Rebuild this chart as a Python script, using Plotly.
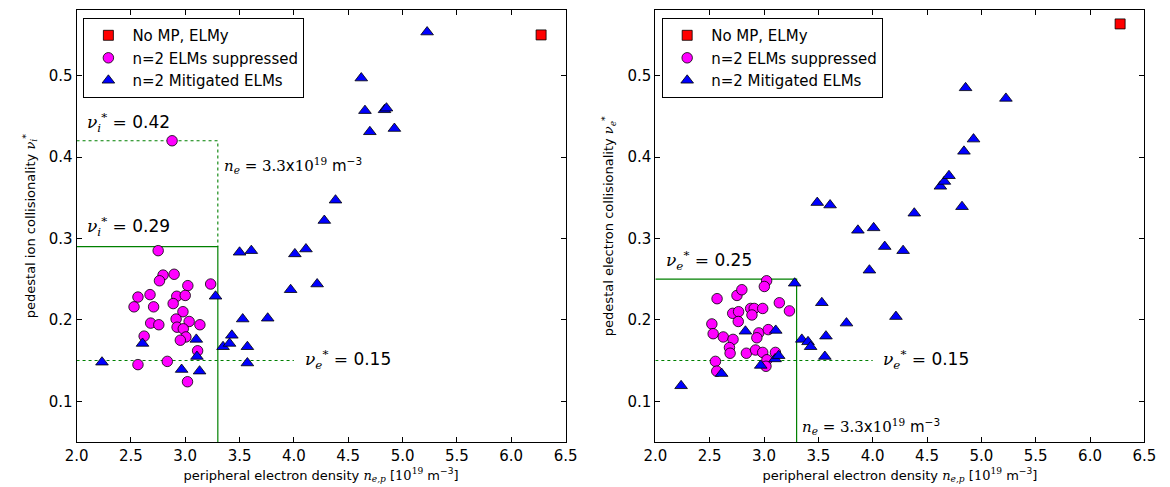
import plotly.graph_objects as go

# ---------------- data ----------------
# Left panel: pedestal ion collisionality
left_elmy_x = [6.275]
left_elmy_y = [0.550]

left_sup_x = [2.751, 2.796, 2.898, 2.763, 3.024, 3.234, 2.565, 2.676, 2.529, 2.709,
              2.922, 3.000, 2.889, 2.979, 2.682, 2.757, 2.916, 3.036, 3.135, 2.925,
              2.982, 2.622, 3.006, 2.955, 3.114, 2.565, 2.835, 3.021, 2.879]
left_sup_y = [0.285, 0.255, 0.256, 0.248, 0.242, 0.244, 0.228, 0.231, 0.216, 0.216,
              0.229, 0.230, 0.220, 0.210, 0.196, 0.194, 0.201, 0.198, 0.194, 0.191,
              0.189, 0.180, 0.179, 0.175, 0.162, 0.145, 0.149, 0.124, 0.420]

left_mit_x = [2.234, 2.607, 2.967, 3.102, 3.108, 3.132, 3.279, 3.348, 3.408, 3.429,
              3.500, 3.529, 3.572, 3.572, 3.608, 3.759, 3.970, 4.009, 4.111, 4.214,
              4.280, 4.383, 4.620, 4.654, 4.699, 4.834, 4.852, 4.925, 5.226]
left_mit_y = [0.148, 0.171, 0.139, 0.176, 0.155, 0.137, 0.229, 0.167, 0.171, 0.181,
              0.283, 0.201, 0.167, 0.147, 0.285, 0.202, 0.237, 0.281, 0.287, 0.244,
              0.322, 0.347, 0.497, 0.457, 0.431, 0.458, 0.460, 0.435, 0.5535]

# Right panel: pedestal electron collisionality
right_elmy_x = [6.277]
right_elmy_y = [0.5635]

right_sup_x = [2.568, 2.751, 2.796, 3.024, 3.003, 3.141, 3.234, 2.877, 2.910, 2.988,
               2.889, 2.712, 2.766, 2.763, 2.520, 2.532, 2.625, 2.715, 2.952, 3.039,
               2.934, 2.682, 2.688, 2.838, 2.922, 2.988, 3.105, 3.027, 3.018, 2.553,
               2.565]
right_sup_y = [0.226, 0.230, 0.237, 0.248, 0.241, 0.221, 0.211, 0.214, 0.214, 0.214,
               0.206, 0.208, 0.210, 0.198, 0.195, 0.183, 0.179, 0.176, 0.184, 0.188,
               0.178, 0.166, 0.159, 0.159, 0.163, 0.160, 0.160, 0.151, 0.143, 0.149,
               0.137]

right_mit_x = [2.237, 2.610, 2.829, 3.108, 2.970, 3.102, 3.135, 3.282, 3.348, 3.405,
               3.429, 3.532, 3.570, 3.560, 3.490, 3.608, 3.759, 3.864, 3.970, 4.009,
               4.111, 4.214, 4.280, 4.383, 4.623, 4.660, 4.702, 4.822, 4.840, 4.855,
               4.928, 5.226]
right_mit_y = [0.119, 0.134, 0.186, 0.187, 0.144, 0.152, 0.156, 0.245, 0.176, 0.173,
               0.167, 0.221, 0.180, 0.155, 0.344, 0.341, 0.196, 0.310, 0.261, 0.313,
               0.290, 0.204, 0.285, 0.331, 0.364, 0.370, 0.377, 0.339, 0.407, 0.485,
               0.422, 0.472]

# thresholds
ne_limit = 3.3
nu_i_limit = 0.29
nu_i_max = 0.42
nu_e_left = 0.15
nu_e_limit = 0.25
nu_dotted_end = 4.0

legend_names = ["No MP, ELMy", "n=2 ELMs suppressed", "n=2 Mitigated ELMs"]

x_ticks = [2.0, 2.5, 3.0, 3.5, 4.0, 4.5, 5.0, 5.5, 6.0, 6.5]
y_ticks = [0.1, 0.2, 0.3, 0.4, 0.5]
x_range = [2.0, 6.5]
y_range = [0.05, 0.58]

# ---------------- figure ----------------
SANS = "DejaVu Sans"
SERIF = "DejaVu Serif"
GREEN = "#008000"

# page body has an 8px default margin; the figure is sized to fit the window
W, H = 1162, 479


def m(s):
    return f"<span style=\"font-family:'{SERIF}'\">{s}</span>"


fig = go.Figure()

marker_line = dict(color="black", width=0.8)


def add_panel(xa, ya, leg, ex, ey, sx, sy, tx, ty):
    fig.add_trace(go.Scatter(x=ex, y=ey, mode="markers", name=legend_names[0],
                             xaxis=xa, yaxis=ya, legend=leg,
                             marker=dict(symbol="square", size=10, color="#FF0000",
                                         line=marker_line)))
    fig.add_trace(go.Scatter(x=sx, y=sy, mode="markers", name=legend_names[1],
                             xaxis=xa, yaxis=ya, legend=leg,
                             marker=dict(symbol="circle", size=10.5, color="#FF00FF",
                                         line=marker_line)))
    fig.add_trace(go.Scatter(x=tx, y=ty, mode="markers", name=legend_names[2],
                             xaxis=xa, yaxis=ya, legend=leg,
                             marker=dict(symbol="triangle-up", size=11, color="#0000FF",
                                         line=marker_line)))


def add_line(xa, ya, xs, ys, dash):
    fig.add_trace(go.Scatter(x=xs, y=ys, mode="lines", xaxis=xa, yaxis=ya,
                             showlegend=False, hoverinfo="skip",
                             line=dict(color=GREEN, width=1.2 if dash == "solid" else 1.1,
                                       dash=dash)))


# reference lines (left)
add_line("x", "y", [x_range[0], ne_limit, ne_limit], [nu_i_max, nu_i_max, nu_i_limit], "dot")
add_line("x", "y", [x_range[0], ne_limit, ne_limit], [nu_i_limit, nu_i_limit, y_range[0]], "solid")
add_line("x", "y", [x_range[0], nu_dotted_end], [nu_e_left, nu_e_left], "dot")
# reference lines (right)
add_line("x2", "y2", [x_range[0], ne_limit, ne_limit], [nu_e_limit, nu_e_limit, y_range[0]], "solid")
add_line("x2", "y2", [x_range[0], nu_dotted_end], [nu_e_left, nu_e_left], "dot")

add_panel("x", "y", "legend", left_elmy_x, left_elmy_y, left_sup_x, left_sup_y,
          left_mit_x, left_mit_y)
add_panel("x2", "y2", "legend2", right_elmy_x, right_elmy_y, right_sup_x, right_sup_y,
          right_mit_x, right_mit_y)

xtitle = ("peripheral electron density " + m("<i>n</i><sub><i>e,p</i></sub>")
          + " [" + m("10<sup>19</sup>") + " m<sup>−3</sup>]")

axis_common = dict(showline=True, linecolor="black", linewidth=1, mirror="allticks",
                   ticks="inside", ticklen=5, tickcolor="black", showgrid=False,
                   zeroline=False, tickfont=dict(family=SANS, size=15, color="black"))

xdom_l = [0.0497, 0.4794]
xdom_r = [0.5583, 0.9880]
ydom = [0.0940, 0.9948]

leg_common = dict(yanchor="top", xanchor="left", y=0.979,
                  bordercolor="black", borderwidth=1, bgcolor="white",
                  font=dict(family=SANS, size=15), tracegroupgap=0, itemwidth=38)

fig.update_layout(
    width=W, height=H,
    margin=dict(l=0, r=0, t=0, b=0),
    paper_bgcolor="white", plot_bgcolor="white",
    font=dict(family=SANS, size=13, color="black"),
    xaxis=dict(domain=xdom_l, range=x_range, tickvals=x_ticks, tickformat=".1f",
               anchor="y", title=dict(text=xtitle, font=dict(size=13), standoff=6),
               **axis_common),
    yaxis=dict(domain=ydom, range=y_range, tickvals=y_ticks, tickformat=".1f",
               anchor="x",
               title=dict(text="pedestal ion collisionality "
                          + m("<i>ν</i><sub><i>i</i></sub><sup>*</sup>"),
                          font=dict(size=13), standoff=10),
               **axis_common),
    xaxis2=dict(domain=xdom_r, range=x_range, tickvals=x_ticks, tickformat=".1f",
                anchor="y2", title=dict(text=xtitle, font=dict(size=13), standoff=6),
                **axis_common),
    yaxis2=dict(domain=ydom, range=y_range, tickvals=y_ticks, tickformat=".1f",
                anchor="x2",
                title=dict(text="pedestal electron collisionality "
                           + m("<i>ν</i><sub><i>e</i></sub><sup>*</sup>"),
                           font=dict(size=13), standoff=10),
                **axis_common),
    legend=dict(x=0.0557, **leg_common),
    legend2=dict(x=0.5643, **leg_common),
)

ann_font = dict(family=SANS, size=17, color="black")
small_font = dict(family=SANS, size=15, color="black")
nu_i = m("<i>ν</i><sub><i>i</i></sub><sup>*</sup> =")
nu_e = m("<i>ν</i><sub><i>e</i></sub><sup>*</sup> =")
ne_txt = m("<i>n</i><sub><i>e</i></sub> = 3.3") + "x" + m("10<sup>19</sup>") + " m<sup>−3</sup>"

annotations = [
    dict(x=2.08, y=0.4426, xref="x", yref="y", text=nu_i + " 0.42", font=ann_font),
    dict(x=2.08, y=0.3146, xref="x", yref="y", text=nu_i + " 0.29", font=ann_font),
    dict(x=3.335, y=0.390, xref="x", yref="y", text=ne_txt, font=small_font),
    dict(x=4.08, y=0.151, xref="x", yref="y", text=nu_e + " 0.15", font=ann_font),
    dict(x=2.08, y=0.273, xref="x2", yref="y2", text=nu_e + " 0.25", font=ann_font),
    dict(x=3.335, y=0.069, xref="x2", yref="y2", text=ne_txt, font=small_font),
    dict(x=4.08, y=0.151, xref="x2", yref="y2", text=nu_e + " 0.15", font=ann_font),
]
for a in annotations:
    a.update(showarrow=False, xanchor="left", yanchor="middle")
fig.update_layout(annotations=annotations)

fig.write_html("out.html")
